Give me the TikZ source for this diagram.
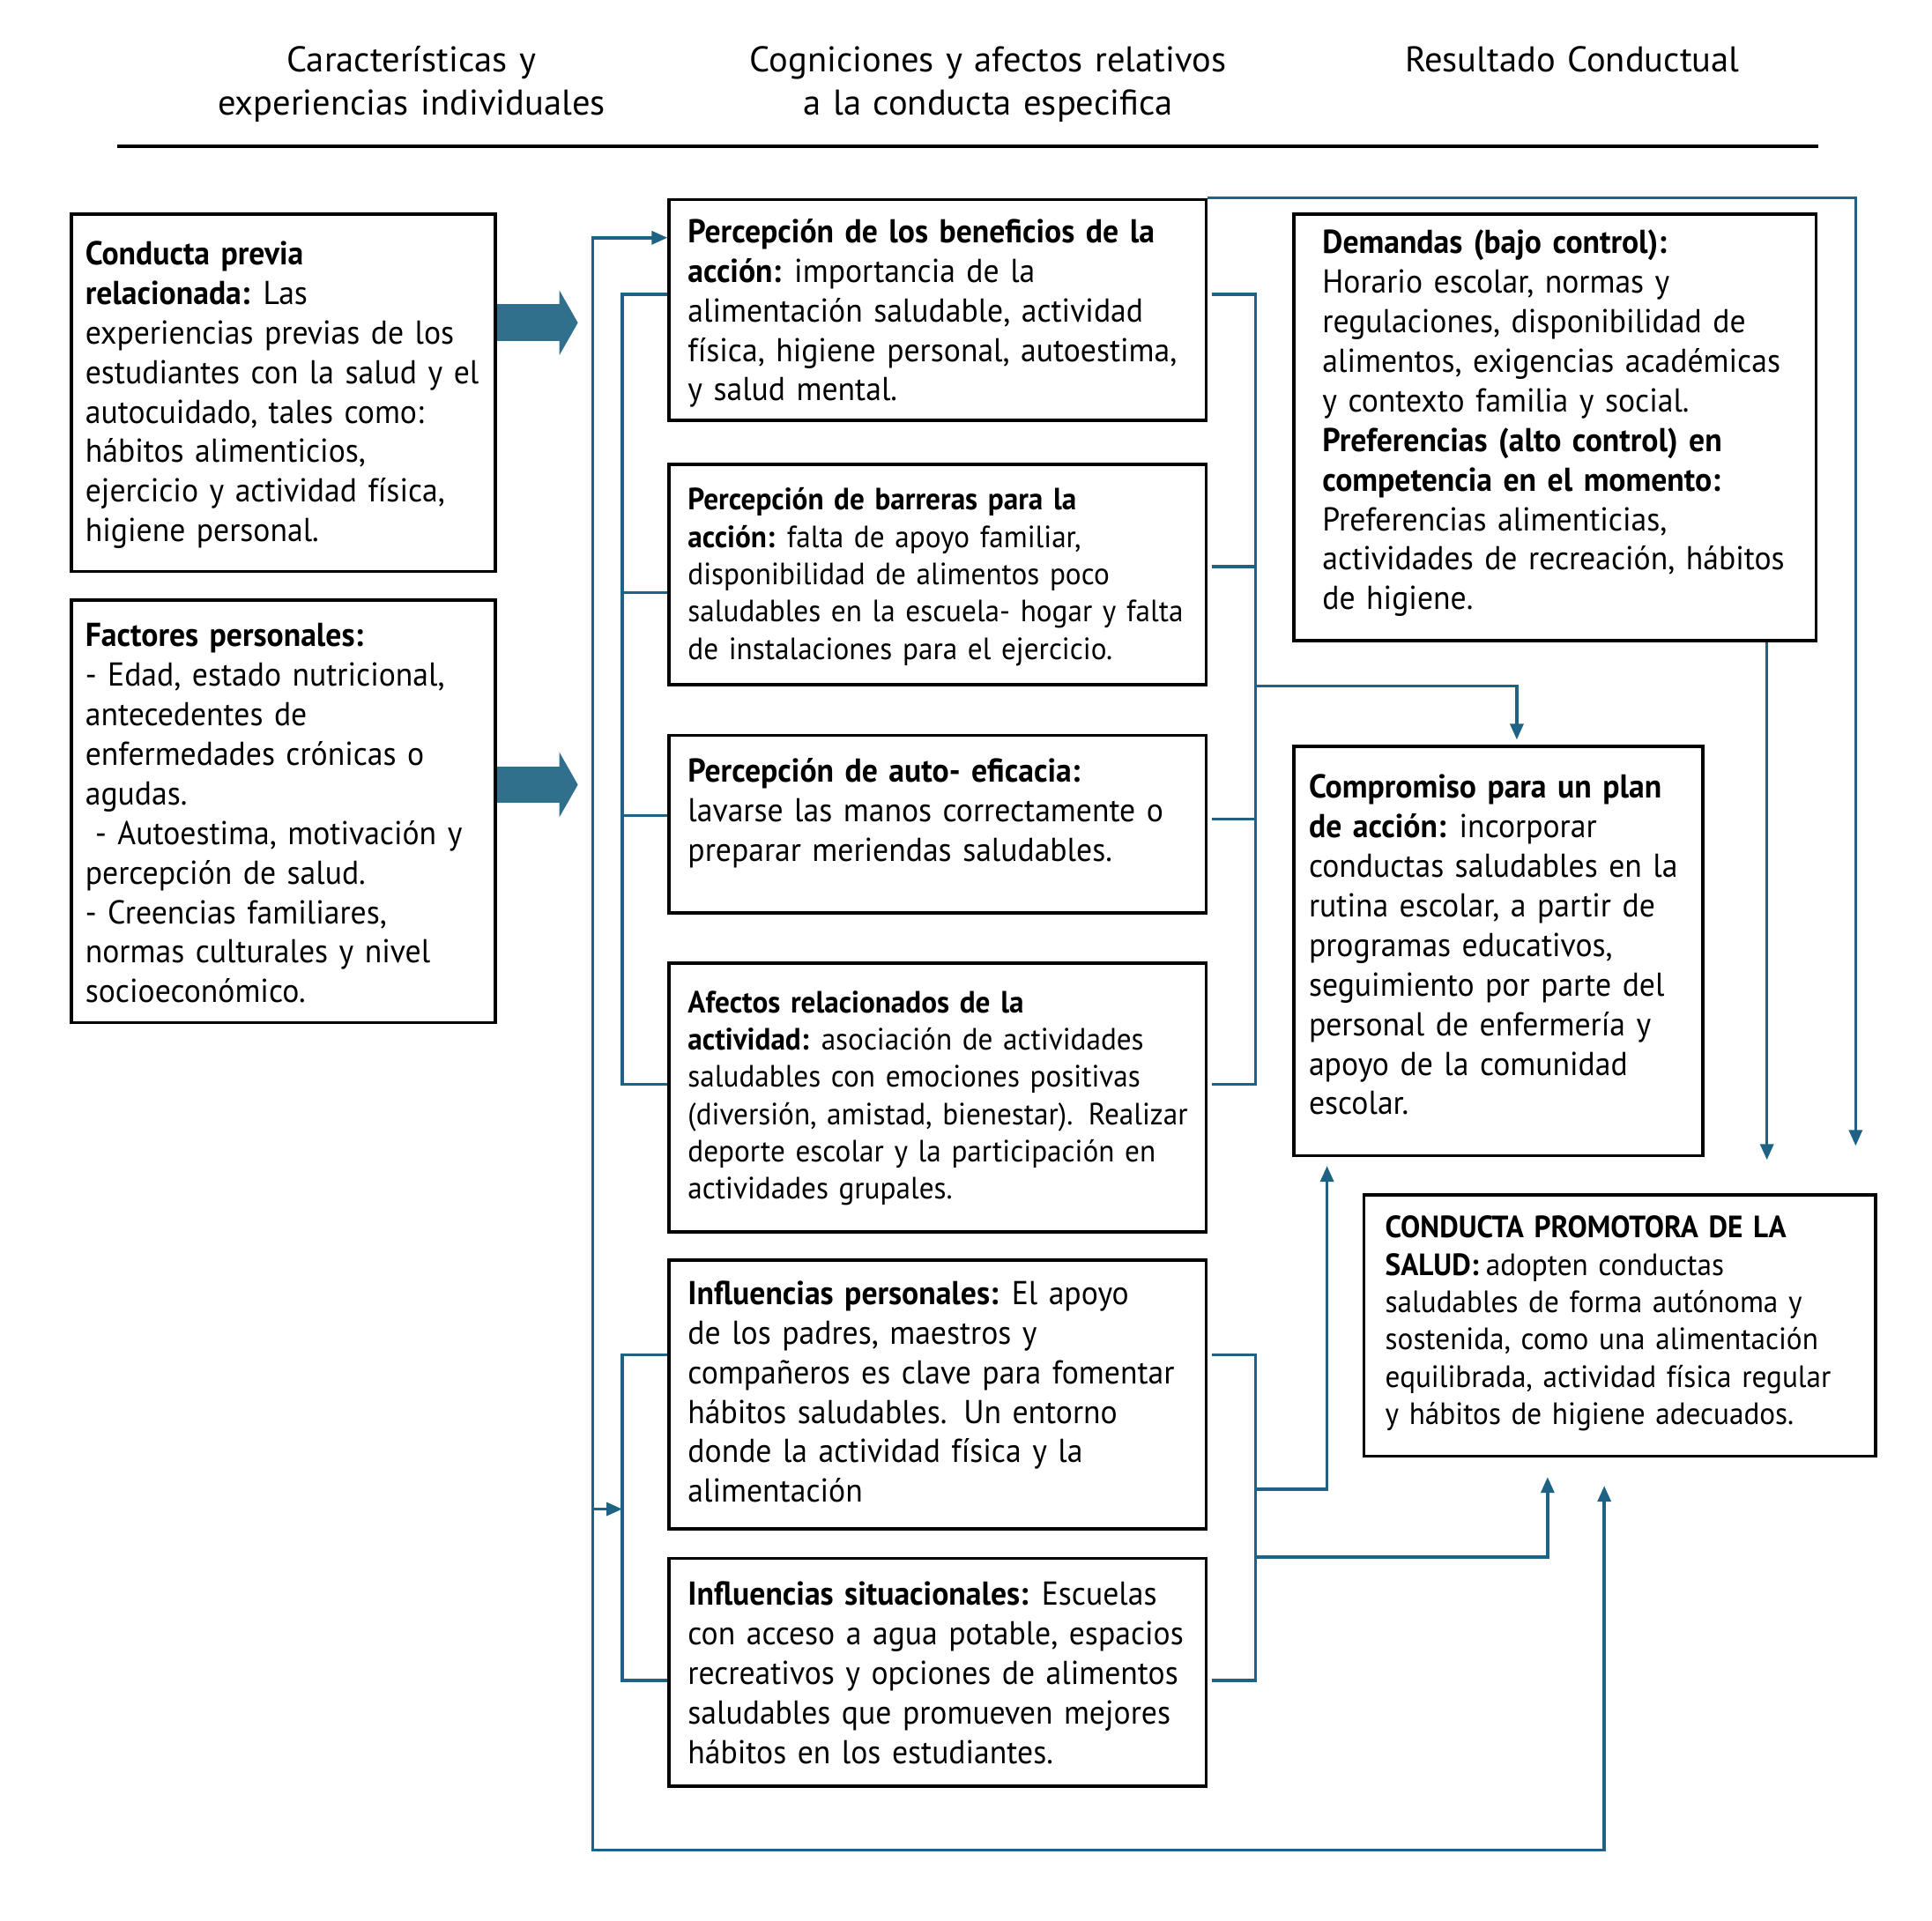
\documentclass[tikz,border=0pt]{standalone}
\usepackage{fontspec}
\setmainfont{PT Sans}[FakeStretch=0.95, WordSpace=0.8]
\newfontfamily\headfont{PT Sans}[WordSpace=0.9]
\newcommand{\bh}[1]{\textbf{#1}\kern-0.1em\relax}
\usetikzlibrary{arrows.meta,fit,calc}
\definecolor{connblue}{HTML}{1E6386}
\definecolor{fatblue}{HTML}{30708D}
\tikzset{
  box/.style={draw=black, line width=1.8pt, inner sep=0pt, fill=none},
  txt/.style={anchor=base west, inner sep=0pt, text width=330pt, align=left,
    font=\fontsize{18.8}{22.47}\selectfont},
  txtsm/.style={txt, font=\fontsize{17.5}{21.2}\selectfont},
  head/.style={anchor=base, inner sep=0pt, text width=330pt, align=center,
    font=\headfont\fontsize{20.3}{24.6}\selectfont},
  conn/.style={draw=connblue, line width=1.7pt},
  tip/.style={-{Triangle[length=9pt,width=7.5pt]}},
  fat/.style={draw=fatblue, line width=21pt,
    -{Triangle[length=10.5pt,width=36.4pt]}},
}
\begin{document}
\begin{tikzpicture}[x=0.7pt,y=-0.7pt]
\useasboundingbox (0,0) rectangle (1568,1559);

% headers
\node[head] (h1) at (334,58) {Características y\\experiencias individuales};
\node[head] (h2) at (802,58) {Cogniciones y afectos relativos\\a la conducta especifica};
\node[head] (h3) at (1276,58) {Resultado Conductual};
\coordinate (hl1) at (95,119);
\coordinate (hl2) at (1476,119);
\draw[line width=1.9pt] (hl1) -- (hl2);

% boxes
\node[box, fit={(58,174)(402,464)}] (A) {};
\node[box, fit={(58,487)(402,830)}] (B) {};
\node[box, fit={(543,162)(979,341)}] (C1) {};
\node[box, fit={(543,377)(979,556)}] (C2) {};
\node[box, fit={(543,597)(979,741)}] (C3) {};
\node[box, fit={(543,782)(979,1000)}] (C4) {};
\node[box, fit={(543,1023)(979,1241)}] (C5) {};
\node[box, fit={(543,1265)(979,1450)}] (C6) {};
\node[box, fit={(1050,174)(1474,520)}] (D) {};
\node[box, fit={(1050,606)(1382,938)}] (E) {};
\node[box, fit={(1107,970)(1522,1182)}] (F) {};

% texts
\node[txt] (At) at (69,215) {\textbf{Conducta previa}\\
\bh{relacionada:} Las\\
experiencias previas de los\\
estudiantes con la salud y el\\
autocuidado, tales como:\\
hábitos alimenticios,\\
ejercicio y actividad física,\\
higiene personal.};

\node[txt] (Bt) at (69,525) {\textbf{Factores personales:}\\
- Edad, estado nutricional,\\
antecedentes de\\
enfermedades crónicas o\\
agudas.\\
\hspace*{0.3em}- Autoestima, motivación y\\
percepción de salud.\\
- Creencias familiares,\\
normas culturales y nivel\\
socioeconómico.};

\node[txt] (C1t) at (558,197) {\textbf{Percepción de los beneficios de la}\\
\bh{acción:} importancia de la\\
alimentación saludable, actividad\\
física, higiene personal, autoestima,\\
y salud mental.};

\node[txtsm] (C2t) at (558,414) {\textbf{Percepción de barreras para la}\\
\bh{acción:} falta de apoyo familiar,\\
disponibilidad de alimentos poco\\
saludables en la escuela- hogar y falta\\
de instalaciones para el ejercicio.};

\node[txt] (C3t) at (558,635) {\textbf{Percepción de auto- eficacia:}\\
lavarse las manos correctamente o\\
preparar meriendas saludables.};

\node[txtsm] (C4t) at (558,822) {\textbf{Afectos relacionados de la}\\
\bh{actividad:} asociación de actividades\\
saludables con emociones positivas\\
(diversión, amistad, bienestar). Realizar\\
deporte escolar y la participación en\\
actividades grupales.};

\node[txt] (C5t) at (558,1059) {\bh{Influencias personales:} El apoyo\\
de los padres, maestros y\\
compañeros es clave para fomentar\\
hábitos saludables. Un entorno\\
donde la actividad física y la\\
alimentación};

\node[txt] (C6t) at (558,1303) {\bh{Influencias situacionales:} Escuelas\\
con acceso a agua potable, espacios\\
recreativos y opciones de alimentos\\
saludables que promueven mejores\\
hábitos en los estudiantes.};

\node[txt] (Dt) at (1073,206) {\textbf{Demandas (bajo control):}\\
Horario escolar, normas y\\
regulaciones, disponibilidad de\\
alimentos, exigencias académicas\\
y contexto familia y social.\\
\textbf{Preferencias (alto control) en}\\
\textbf{competencia en el momento:}\\
Preferencias alimenticias,\\
actividades de recreación, hábitos\\
de higiene.};

\node[txt] (Et) at (1062,648) {\textbf{Compromiso para un plan}\\
\bh{de acción:} incorporar\\
conductas saludables en la\\
rutina escolar, a partir de\\
programas educativos,\\
seguimiento por parte del\\
personal de enfermería y\\
apoyo de la comunidad\\
escolar.};

\node[txtsm] (Ft) at (1124,1005) {\textbf{CONDUCTA PROMOTORA DE LA}\\
\bh{SALUD:} adopten conductas\\
saludables de forma autónoma y\\
sostenida, como una alimentación\\
equilibrada, actividad física regular\\
y hábitos de higiene adecuados.};

% fat arrows
\coordinate (ta1) at (469,262);
\coordinate (ta2) at (469,637);
\draw[fat] (A.east |- ta1) -- (ta1);
\draw[fat] (B.east |- ta2) -- (ta2);

% left spine (feedback loop)
\coordinate (sp1) at (481,193);
\coordinate (sp2) at (481,1502);
\coordinate (sp3) at (1302,1502);
\draw[conn, {Triangle[length=9pt,width=7.5pt]}-{Triangle[length=9pt,width=7.5pt]}, shorten <=16pt]
  (F.south -| sp3) -- (sp3) -- (sp2) -- (sp1) -- (C1.west |- sp1);
\coordinate (sa1) at (481,1225);
\coordinate (sa2) at (505,1225);
\draw[conn, tip] (sa1) -- (sa2);

% left bracket upper
\coordinate (lb1) at (505,239);
\coordinate (lb2) at (505,880);
\draw[conn] (C1.west |- lb1) -- (lb1) -- (lb2) -- (C4.west |- lb2);
\draw[conn] (505,481) -- (C2.west |- 0,481);
\draw[conn] (505,662) -- (C3.west |- 0,662);

% right bracket upper
\coordinate (rb1) at (1019,239);
\coordinate (rb2) at (1019,880);
\draw[conn, shorten <=2.5pt, shorten >=2.5pt] (C1.east |- rb1) -- (rb1) -- (rb2) -- (C4.east |- rb2);
\draw[conn, shorten >=2.5pt] (1019,460) -- (C2.east |- 0,460);
\draw[conn, shorten >=2.5pt] (1019,665) -- (C3.east |- 0,665);
\coordinate (re1) at (1019,557);
\coordinate (re2) at (1231,557);
\draw[conn, tip, shorten >=3pt] (re1) -- (re2) -- (E.north -| re2);

% lower brackets
\coordinate (lb3) at (505,1100);
\coordinate (lb4) at (505,1364);
\draw[conn] (C5.west |- lb3) -- (lb3) -- (lb4) -- (C6.west |- lb4);
\coordinate (rb3) at (1019,1100);
\coordinate (rb4) at (1019,1364);
\draw[conn, shorten <=2.5pt, shorten >=2.5pt] (C5.east |- rb3) -- (rb3) -- (rb4) -- (C6.east |- rb4);
\coordinate (ru1) at (1019,1209);
\coordinate (ru2) at (1077,1209);
\draw[conn, tip, shorten >=5pt] (ru1) -- (ru2) -- (E.south -| ru2);
\coordinate (rf1) at (1019,1264);
\coordinate (rf2) at (1256,1264);
\draw[conn, tip, shorten >=11pt] (rf1) -- (rf2) -- (F.south -| rf2);

% top line from C1 to F
\coordinate (tp1) at (1506,163);
\draw[conn, tip, shorten >=27pt] (C1.north east) -- (C1.north east -| tp1) -- (F.north -| tp1);
% D to F
\coordinate (dp) at (1434,520);
\draw[conn, tip, shorten >=19pt] (D.south -| dp) -- (F.north -| dp);
\end{tikzpicture}
\end{document}
